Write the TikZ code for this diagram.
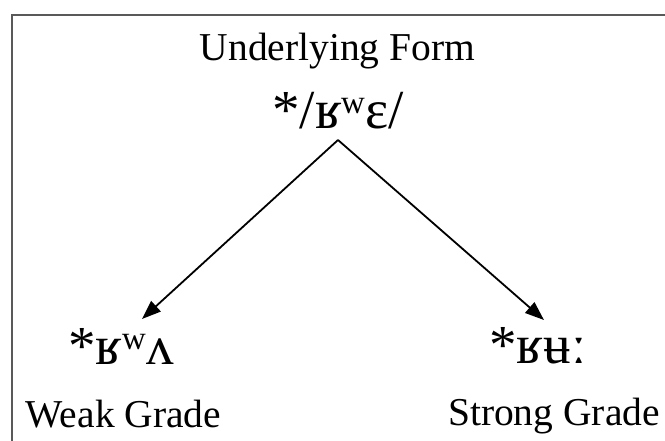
\documentclass[tikz,border=0pt]{standalone}
\usepackage{fontspec}
\setmainfont{Liberation Serif}
\usetikzlibrary{positioning,arrows.meta,calc}

\begin{document}
\begin{tikzpicture}[
            x=1pt, y=-1pt,
            every node/.style={font=\fontsize{39.5}{45}\selectfont, inner sep=0pt, anchor=base},
            form/.style={font=\fontsize{55}{60}\selectfont},
            frame/.style={line width=1.3pt, black!65},
            arrow/.style={-{Triangle[length=19pt,width=14pt]}, line width=1.8pt}
        ]
            \useasboundingbox (0,0) rectangle (665,441);

            % Frame (open on the right and at the bottom)
            \draw[frame] (665,15) -- (12,15) -- (12,441);

            % Underlying form
            \node (uflabel) at (337.5,61) {Underlying Form};
            \node[form] (uform) at (338,129) {*/ʁʷɛ/};

            % Weak and strong grade
            \node[form] (wform) at (121,364) {*ʁʷʌ};
            \node[form] (sform) at (538,363) {*ʁʉː};
            \node (wlabel) at (123.5,427) {Weak Grade};
            \node (slabel) at (554,425) {Strong Grade};

            % Arrow ends
            \coordinate (apex) at ($(uform.base)+(0,11)$);
            \coordinate (wtip) at ($(wform.base)+(21,-45)$);
            \coordinate (stip) at ($(sform.base)+(6,-43)$);

            % Arrows
            \draw[arrow] (apex) -- (wtip);
            \draw[arrow] (apex) -- (stip);

        \end{tikzpicture}
\end{document}
